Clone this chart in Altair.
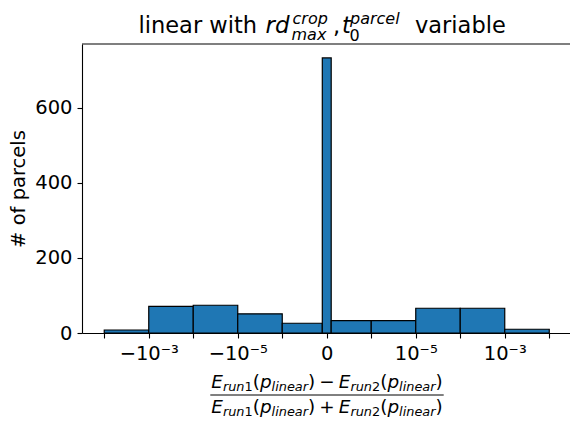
import math
import altair as alt
import pandas as pd

# ---------------- data ----------------
bin_lo = [-1e-2, -1e-3, -1e-4, -1e-5, -1e-6, -1e-7, 1e-7, 1e-6, 1e-5, 1e-4, 1e-3]
bin_hi = [-1e-3, -1e-4, -1e-5, -1e-6, -1e-7, 1e-7, 1e-6, 1e-5, 1e-4, 1e-3, 1e-2]
counts = [8, 71, 74, 51, 26, 733, 33, 33, 66, 66, 10]
tick_values = [-1e-2, -1e-3, -1e-4, -1e-5, -1e-6, 0, 1e-6, 1e-5, 1e-4, 1e-3, 1e-2]
tick_labels = ["", "−10⁻³", "", "−10⁻⁵", "", "0", "", "10⁻⁵", "", "10⁻³", ""]
y_ticks = [0, 200, 400, 600]
y_title = "# of parcels"
LINTHRESH = 1e-6

FONT = "DejaVu Sans"
PLOT_W, PLOT_H = 488, 289
PAD_L, PAD_T = 82, 44
X_MIN = -5.5
X_MAX = X_MIN + PLOT_W / 44.5


def symlog(v):
    if abs(v) < LINTHRESH:
        return v / LINTHRESH
    s = 1 if v > 0 else -1
    return round(s * (math.log10(abs(v) / LINTHRESH) + 1), 9)


tick_pos = [symlog(v) for v in tick_values]
label_expr = "''"
for p, lab in zip(tick_pos, tick_labels):
    if lab:
        label_expr = f"abs(datum.value - ({p})) < 1e-6 ? '{lab}' : " + label_expr

df = pd.DataFrame({"lo": bin_lo, "hi": bin_hi, "count": counts})


def tf(f):
    return (f"abs(datum.{f}) >= {LINTHRESH} ? (datum.{f} > 0 ? 1 : -1) * "
            f"(log(abs(datum.{f}) / {LINTHRESH}) / LN10 + 1) : datum.{f} / {LINTHRESH}")


bars = alt.Chart(df).transform_calculate(t0=tf("lo"), t1=tf("hi")).mark_bar(
    fill="#1f77b4", stroke="black", strokeWidth=1.2
).encode(
    x=alt.X("t0:Q", scale=alt.Scale(domain=[X_MIN, X_MAX], nice=False, zero=False),
            axis=alt.Axis(values=tick_pos, labelExpr=label_expr, title=None, grid=False,
                          offset=0, tickSize=5, tickColor="black", tickWidth=1.1,
                          domainColor="black", domainWidth=1.1,
                          labelFont=FONT, labelFontSize=19.5, labelColor="black",
                          labelBaseline="alphabetic", labelPadding=21.5,
                          labelFlush=False, labelOverlap=False)),
    x2="t1:Q",
    y=alt.Y("count:Q", scale=alt.Scale(domain=[0, 770], nice=False),
            axis=alt.Axis(values=y_ticks, title=y_title, grid=False, offset=0,
                          tickSize=5, tickColor="black", tickWidth=1.1,
                          domainColor="black", domainWidth=1.1,
                          labelFont=FONT, labelFontSize=19.5, labelColor="black",
                          labelPadding=5,
                          titleFont=FONT, titleFontSize=19.5, titleFontWeight="normal",
                          titleColor="black", titleAngle=270, titleX=-58,
                          titleY=PLOT_H / 2, titleBaseline="alphabetic", titleAlign="center")),
    y2=alt.datum(0),
)

one = pd.DataFrame({"a": [0]})

top_spine = alt.Chart(one).mark_rule(color="black", strokeWidth=1.1).encode(
    x=alt.value(0), x2=alt.value(PLOT_W + 2), y=alt.value(0)
)


def txt(s, x_abs, base_abs, size, style="normal"):
    return alt.Chart(one).mark_text(
        text=s, align="left", baseline="alphabetic", font=FONT, fontSize=size,
        fontStyle=style, color="black"
    ).encode(x=alt.value(x_abs - PAD_L), y=alt.value(base_abs - PAD_T))


# ---- title pieces: linear with rd^{crop}_{max}, t_0^{parcel} variable ----
TF, TS = 22.5, 16
title_layers = [
    txt("linear with", 138.5, 32.5, TF),
    txt("rd", 265.5, 32.5, 23, "italic"),
    txt("crop", 292.5, 24, TS, "italic"),
    txt("max", 291.5, 40, TS, "italic"),
    txt(",", 333, 32.5, TF),
    txt("t", 342, 32.5, TF, "italic"),
    txt("0", 349.5, 40.5, TS),
    txt("parcel", 350, 24, TS, "italic"),
    txt("variable", 415, 32.5, TF),
]

# ---- x-axis title: fraction ----
ADV = {"E": 1294, "r": 842, "u": 1298, "n": 1298, "1": 1303, "2": 1303, "(": 799,
       ")": 799, "p": 1300, "l": 569, "i": 569, "e": 1260, "a": 1255, "−": 1716,
       "+": 1716}


def width(s, size):
    return sum(ADV.get(c, 1250) for c in s) / 2048 * size


def fraction_row(op, cx_abs, base_abs, F):
    pieces = [("E", "italic", "main"), ("run", "italic", "sub"), ("1", "normal", "sub"),
              ("(", "normal", "main"), ("p", "italic", "main"), ("linear", "italic", "sub"),
              (")", "normal", "main"), (op, "normal", "bin"),
              ("E", "italic", "main"), ("run", "italic", "sub"), ("2", "normal", "sub"),
              ("(", "normal", "main"), ("p", "italic", "main"), ("linear", "italic", "sub"),
              (")", "normal", "main")]
    S = 0.7 * F
    gap = 0.222 * F
    total = 0
    for s, st, role in pieces:
        if role == "sub":
            total += width(s, S)
        elif role == "bin":
            total += width(s, F) + 2 * gap
        else:
            total += width(s, F)
    x = cx_abs - total / 2
    out = []
    for s, st, role in pieces:
        if role == "sub":
            out.append(txt(s, x, base_abs + 0.19 * F, S, st))
            x += width(s, S)
        elif role == "bin":
            x += gap
            out.append(txt(s, x, base_abs, F, st))
            x += width(s, F) + gap
        else:
            out.append(txt(s, x, base_abs, F, st))
            x += width(s, F)
    return out, total


XF = 18.4
CX = 327
num_layers, num_w = fraction_row("−", CX, 388, XF)
den_layers, _ = fraction_row("+", CX, 413, XF)
frac_line = alt.Chart(one).mark_rule(color="black", strokeWidth=1).encode(
    x=alt.value(CX - num_w / 2 - 1 - PAD_L), x2=alt.value(CX + num_w / 2 + 1 - PAD_L),
    y=alt.value(395 - PAD_T)
)

chart = alt.layer(bars, top_spine, *title_layers, *num_layers, *den_layers, frac_line).properties(
    width=PLOT_W, height=PLOT_H,
    autosize=alt.AutoSizeParams(type="none"),
    padding={"left": PAD_L, "top": PAD_T, "right": 0, "bottom": 424 - PAD_T - PLOT_H},
    background="white",
).configure_view(strokeWidth=0)

chart.save("out.html", embed_options={"renderer": "svg", "actions": False})
